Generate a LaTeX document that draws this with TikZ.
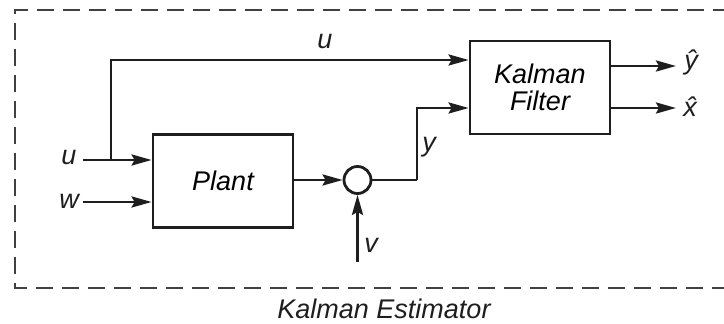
\documentclass[tikz,border=0pt]{standalone}
\usepackage{fontspec}
\setmainfont{Liberation Sans}
\usetikzlibrary{arrows.meta,positioning,calc}
\definecolor{linegray}{RGB}{30,30,30}
\tikzset{
  sig/.style={-{Stealth[length=20pt,width=11pt,inset=3pt]}, linegray, line width=2.8pt},
  wire/.style={linegray, line width=2.8pt},
  blk/.style={draw=linegray, line width=2.8pt, minimum width=140pt, minimum height=93pt,
              align=center, font=\fontsize{27}{28}\selectfont\itshape, inner sep=0pt},
  sumc/.style={circle, draw=linegray, line width=2.8pt, minimum size=27pt, inner sep=0pt},
  tlab/.style={font=\fontsize{27}{28}\selectfont\itshape, text=linegray, inner sep=1pt},
  frame/.style={linegray!85, line width=2.4pt, dash pattern=on 17pt off 9pt},
}

\begin{document}
\begin{tikzpicture}[x=1pt, y=1pt]
        \useasboundingbox (0,0) rectangle (724,324);
        % outer dashed frame, open on the right
        \draw[frame] (730,314) -- (15,314) -- (15,36) -- (730,36);
        \node[tlab] (est) at (384,15) {Kalman Estimator};
        % blocks
        \node[blk] (plant) at (223,143) {Plant};
        \node[blk] (kf) at (540,236.5) {Kalman\\[-1pt]Filter};
        \node[sumc] (sum) at (357.5,144) {};
        % inputs
        \node[tlab] (uin) at (69,167) {u};
        \node[tlab] (win) at (69,123) {w};
        \coordinate (ubr) at (111,164);
        \draw[sig] (83,164) -- (ubr) -- (ubr -| plant.west);
        \draw[sig] (83,122) -- (plant.west |- 0,122);
        \coordinate (kfu) at ([yshift=27.5pt]kf.west);
        \coordinate (kfy) at ([yshift=-20.5pt]kf.west);
        \draw[sig] (ubr) |- (kfu);
        \node[tlab] (utop) at (325,283) {u};
        % plant output and noise
        \draw[sig] (plant.east |- sum) -- (sum.west);
        \coordinate (vin) at (357.5,62);
        \node[tlab] (vlab) at (371,79) {v};
        \draw[sig] (vin) -- (sum.south);
        \coordinate (ybr) at (417,144);
        \draw[wire] (sum.east) -- (ybr);
        \draw[sig] (ybr) |- (kfy);
        \node[tlab] (ylab) at (429,177) {y};
        % estimator outputs
        \node[tlab] (yhat) at (691,262) {\^y};
        \node[tlab] (xhat) at (690,217) {\^x};
        \draw[sig] ([yshift=21.5pt]kf.east) -- (676,258);
        \draw[sig] (kfy -| kf.east) -- (676,216);
\end{tikzpicture}
\end{document}
